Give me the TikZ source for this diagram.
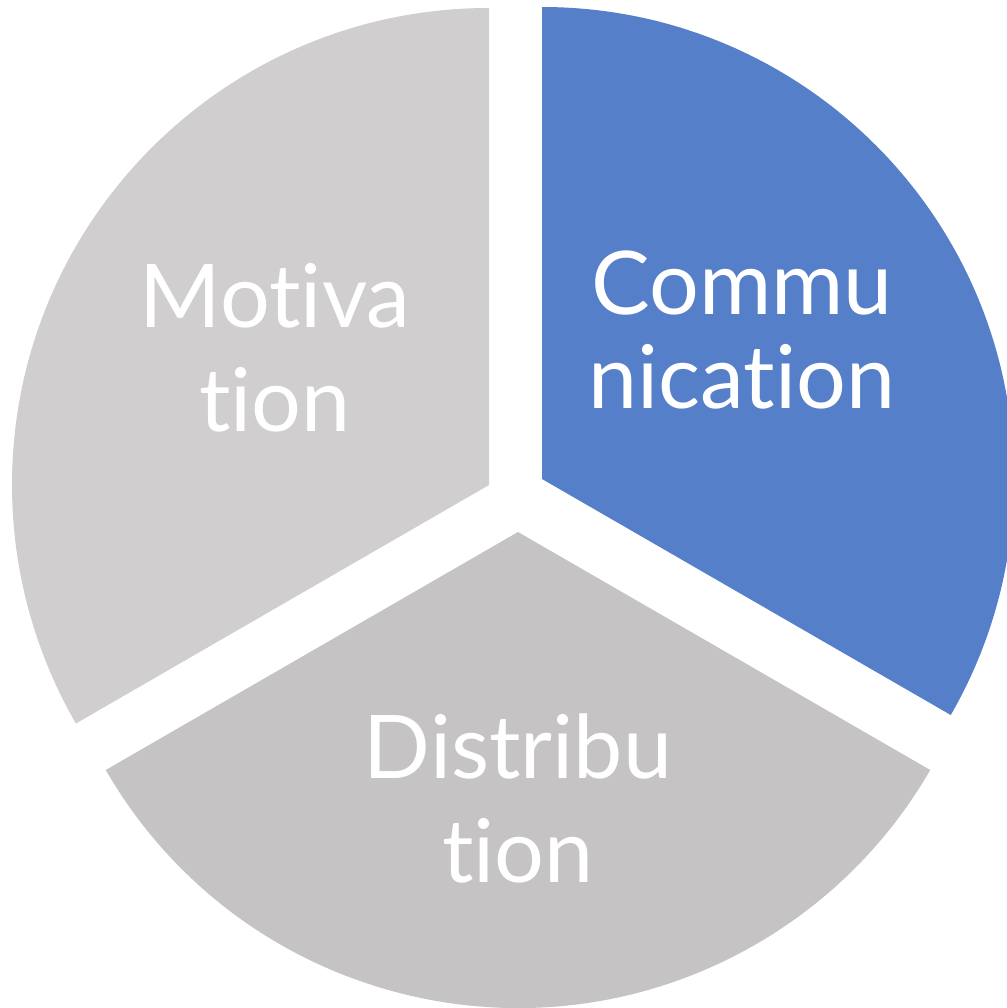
\documentclass[tikz,border=0pt]{standalone}
\usepackage{fontspec}
\setmainfont{Lato}[Ligatures=NoCommon]
\usetikzlibrary{calc}
\definecolor{commblue}{HTML}{557FC8}
\definecolor{motivgray}{HTML}{D0CECF}
\definecolor{distrgray}{HTML}{C5C3C4}
\tikzset{
  slicelabel/.style={text=white, align=center, inner sep=0pt, anchor=base,
    font=\fontsize{25}{29.7}\selectfont}
}
\begin{document}
\begin{tikzpicture}[x=0.01cm, y=0.01cm]
\clip (0,0) rectangle (1007,1008);
\coordinate (c) at (542,529);
\coordinate (m) at (489,523);
\coordinate (d) at (518,476);
\fill[commblue] (c) -- ++(90:472) arc[start angle=90, end angle=-30, radius=472] -- cycle;
\fill[motivgray] (m) -- ++(90:477) arc[start angle=90, end angle=210, radius=477] -- cycle;
\fill[distrgray] (d) -- ++(210:476) arc[start angle=210, end angle=330, radius=476] -- cycle;
\node[slicelabel, font=\fontsize{25}{26.5}\selectfont] (commu) at (742,600) {Commu\\nication};
\node[slicelabel] (motiv) at (275,576) {Motiva\\tion};
\node[slicelabel] (distr) at (518,125) {Distribu\\tion};
\end{tikzpicture}
\end{document}
